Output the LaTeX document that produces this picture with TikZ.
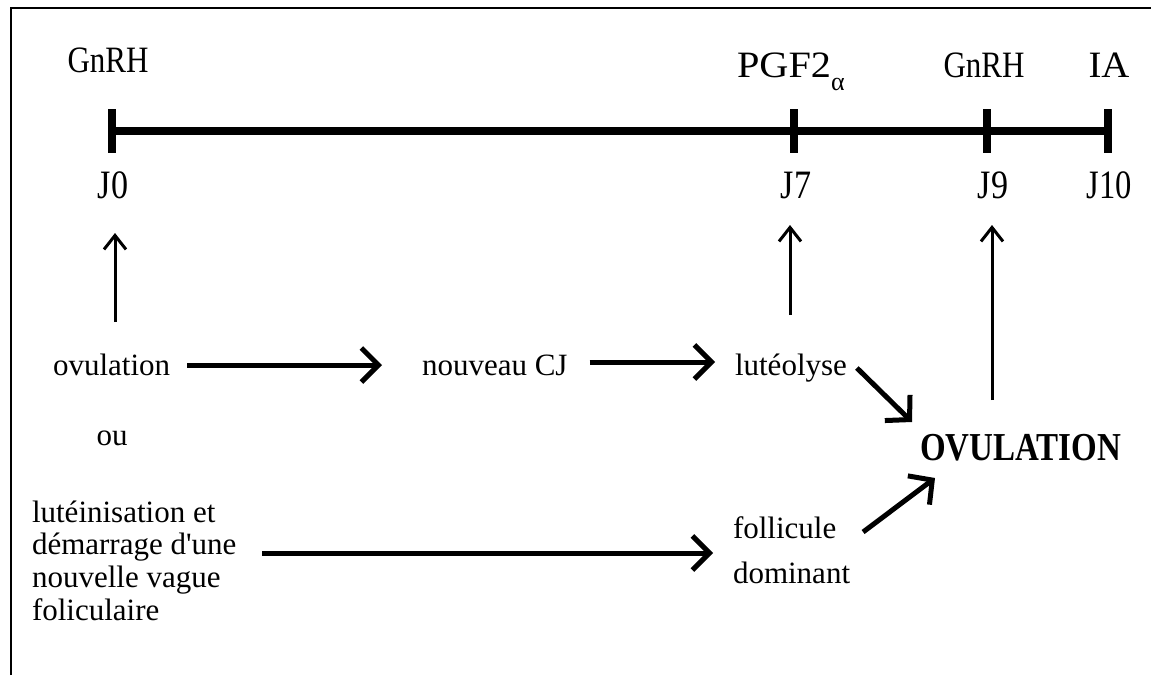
\documentclass[tikz,border=0pt]{standalone}
\usepackage{fontspec}
\setmainfont{Liberation Serif}
\usepackage{graphicx}
\usetikzlibrary{arrows.meta,calc}
\tikzset{
  txt/.style={inner sep=0pt, outer sep=0pt, font=\fontsize{31}{33}\selectfont},
  harrow/.style={line width=5pt, -{Straight Barb[length=17pt,width=34pt]}},
  darrow/.style={line width=5pt, -{Straight Barb[length=17pt,width=36pt]}},
  uparrow/.style={line width=3pt, -{Straight Barb[length=14pt,width=22pt]}},
  tline/.style={line width=8pt},
  frame/.style={line width=2pt}
}
\begin{document}
\begin{tikzpicture}[x=1pt,y=-1pt]
\useasboundingbox (0,0) rectangle (1151,675);
\fill[white] (0,0) rectangle (1151,675);
\draw[frame] (11,675) -- (11,8) -- (1151,8);

% timeline
\coordinate (t0) at (112,131);
\coordinate (t7) at (794,131);
\coordinate (t9) at (987,131);
\coordinate (t10) at (1108,131);
\draw[tline] (t0) -- (t10);
\foreach \t in {t0,t7,t9,t10}
  \draw[tline] ($(\t)+(0,-22)$) -- ($(\t)+(0,22)$);

% top labels
\node[txt, anchor=base] (g0) at (108,72) {\scalebox{1}[1.2]{GnRH}};
\node[txt, anchor=base west] (pgf) at (737,77) {\scalebox{1.3}[1.2]{PGF2}\raisebox{-13pt}{\fontsize{26}{26}\selectfont α}};
\node[txt, anchor=base] (g9) at (984,77) {\scalebox{1}[1.2]{GnRH}};
\node[txt, anchor=base] (ia) at (1109,77) {\scalebox{1.25}[1.2]{IA}};

\node[txt, anchor=base] (j0) at (113,198) {\scalebox{1.1}[1.3]{J0}};
\node[txt, anchor=base] (j7) at (796,198) {\scalebox{1.1}[1.3]{J7}};
\node[txt, anchor=base] (j9) at (993,198) {\scalebox{1.1}[1.3]{J9}};
\node[txt, anchor=base] (j10) at (1109,198) {\scalebox{1.05}[1.3]{J10}};

% middle row
\node[txt, anchor=base west] (ovul) at (53,375) {ovulation};
\node[txt, anchor=base west] (cj) at (422,375) {nouveau CJ};
\node[txt, anchor=base west] (lut) at (735,375) {lutéolyse};
\node[txt, anchor=base] (ou) at (112,445) {ou};
\node[txt, anchor=base west, font=\fontsize{33}{35}\selectfont\bfseries] (ovl) at (920,460) {\scalebox{1}[1.2]{OVULATION}};

% lower row
\node[txt, anchor=base west, font=\fontsize{31}{32.7}\selectfont] (lb) at (32,522)
  {\begin{tabular}[t]{@{}l@{}}lutéinisation et\\démarrage d\textquotesingle une\\nouvelle vague\\foliculaire\end{tabular}};
\node[txt, anchor=base west, font=\fontsize{31}{45}\selectfont] (fol) at (733,538)
  {\begin{tabular}[t]{@{}l@{}}follicule\\dominant\end{tabular}};

% horizontal arrows
\draw[harrow] ($(ovul.base east)+(17,-10)$) -- ($(cj.base west)+(-40,-10)$);
\draw[harrow] ($(cj.base east)+(22,-13)$) -- ($(lut.base west)+(-20,-13)$);
\draw[harrow] ($(lb.base east)+(26,31)$) -- ($(fol.base west)+(-20,15)$);

% diagonal arrows
\draw[darrow] ($(lut.base east)+(10,-7)$) -- ($(ovl.base west)+(-8,-38)$);
\draw[darrow] ($(fol.base east)+(13,-6)$) -- ($(ovl.base west)+(15,18)$);

% up arrows
\draw[uparrow] ($(ovul.base west)+(62,-53)$) -- ($(j0.base)+(2,35)$);
\draw[uparrow] ($(lut.base west)+(55,-60)$) -- ($(j7.base)+(-6,27)$);
\draw[uparrow] ($(ovl.base west)+(72,-60)$) -- ($(j9.base)+(-1,27)$);
\end{tikzpicture}
\end{document}
